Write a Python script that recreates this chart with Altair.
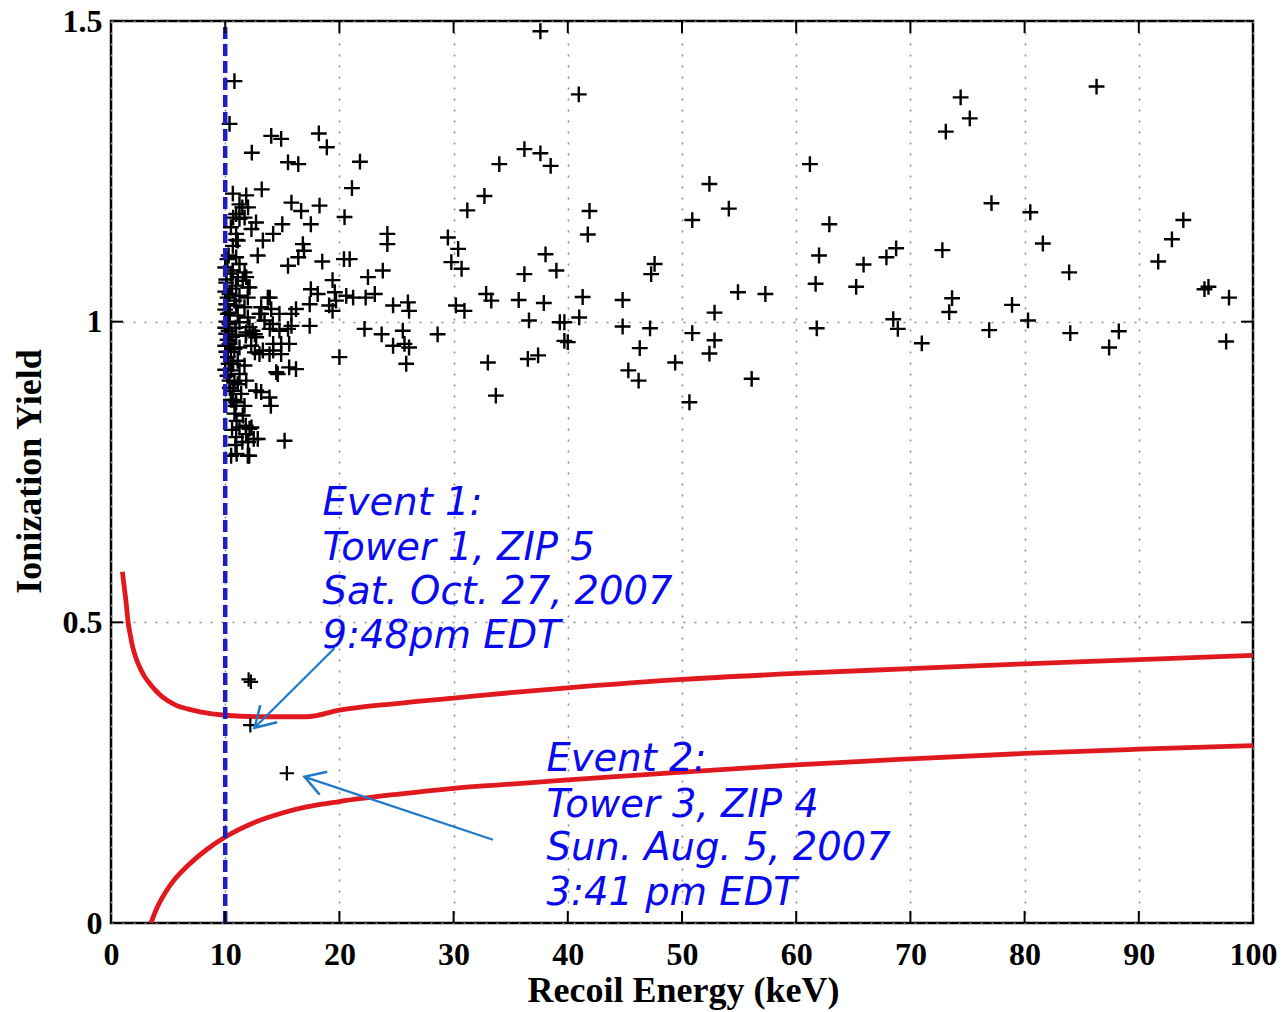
import math
import altair as alt
import pandas as pd

# Plot area in pixels
W, H = 1142, 902
X_MAX, Y_MAX = 100.0, 1.5

# ---- candidate events: recoil energy (keV) and ionization yield ----
scatter_e = [
    10.81, 10.38, 14.03, 14.9, 18.2, 18.9, 12.33, 15.5, 16.4, 21.8, 13.2, 21.1,
    10.67, 11.84, 15.8, 16.65, 18.26, 20.45, 11.5, 10.7, 11.25, 12.7, 12.3, 15.0,
    17.5, 14.2, 13.3, 10.96, 24.2, 24.2, 29.5, 30.4, 29.8, 30.7, 32.7, 31.2,
    16.8, 16.9, 16.4, 12.85, 15.5, 18.5, 20.4, 20.9, 22.5, 23.8, 19.4, 11.84,
    12.0, 19.6, 20.6, 21.2, 22.3, 23.1, 17.5, 18.1, 17.4, 19.7, 19.4, 13.9,
    13.15, 13.15, 14.75, 15.8, 16.2, 19.1, 24.7, 26.0, 26.1, 30.2, 30.95, 32.85,
    33.3, 12.4, 13.9, 14.75, 15.5, 15.8, 17.4, 22.2, 23.7, 25.55, 28.6, 11.8,
    12.6, 14.2, 14.9, 15.6, 24.7, 25.7, 26.1, 12.6, 13.3, 14.2, 14.9, 20.0,
    25.85, 33.0, 15.6, 16.2, 14.6, 12.7, 13.15, 14.0, 33.7, 15.2, 11.8, 12.3,
    11.5, 12.0, 12.5, 11.0, 12.1,
]
scatter_y = [
    1.400, 1.329, 1.309, 1.304, 1.313, 1.290, 1.281, 1.265, 1.262, 1.266, 1.220, 1.222,
    1.213, 1.210, 1.198, 1.184, 1.193, 1.174, 1.190, 1.173, 1.171, 1.165, 1.154, 1.162,
    1.162, 1.146, 1.135, 1.136, 1.146, 1.129, 1.140, 1.121, 1.099, 1.088, 1.209, 1.185,
    1.129, 1.118, 1.107, 1.110, 1.093, 1.100, 1.104, 1.104, 1.074, 1.085, 1.069, 1.074,
    1.057, 1.049, 1.043, 1.040, 1.040, 1.046, 1.054, 1.046, 1.029, 1.035, 1.018, 1.040,
    1.024, 1.013, 1.013, 1.013, 1.021, 1.027, 1.027, 1.032, 1.018, 1.027, 1.018, 1.046,
    1.035, 0.985, 0.988, 0.985, 0.988, 0.993, 0.993, 0.988, 0.979, 0.985, 0.979, 0.977,
    0.979, 0.963, 0.963, 0.963, 0.960, 0.963, 0.957, 0.949, 0.952, 0.952, 0.946, 0.941,
    0.930, 0.932, 0.924, 0.921, 0.913, 0.885, 0.883, 0.860, 0.877, 0.802, 0.827, 0.824,
    0.800, 0.800, 0.805, 0.780, 0.777,
]

# events crowded just above the 10 keV threshold
cluster_e = [
    11.25, 12.0, 10.96, 11.7, 10.5, 10.96, 10.67, 11.1, 10.2, 10.96, 11.25, 10.67,
    11.7, 11.1, 10.09, 10.96, 11.54, 12.13, 10.38, 11.25, 11.98, 13.73, 10.09, 10.96,
    11.69, 14.03, 10.23, 11.1, 11.98, 13.0, 10.38, 11.25, 12.13, 13.44, 14.17, 10.09,
    10.96, 11.84, 12.71, 10.38, 11.25, 12.28, 13.0, 13.88, 10.23, 11.1, 11.69, 10.52,
    11.25, 14.47, 10.38, 11.1, 11.84, 10.67, 11.4, 12.71, 13.88, 10.96, 11.69, 10.81,
    11.54, 11.25, 12.13, 10.96, 11.84, 12.85, 10.52, 11.98,
    10.0, 10.1, 10.0, 10.2, 10.0, 10.1, 10.0, 10.2, 10.0, 10.1, 10.3, 10.0,
    10.2, 10.4, 10.5, 10.3, 10.4, 10.6, 10.5, 10.7, 10.8, 10.5, 10.3, 10.6,
    10.8, 10.9, 10.8, 10.7, 10.9, 11.0, 10.6, 10.9,
]
cluster_y = [
    1.195, 1.190, 1.179, 1.173, 1.157, 1.146, 1.126, 1.135, 1.104, 1.107, 1.096, 1.085,
    1.082, 1.074, 1.065, 1.060, 1.068, 1.057, 1.046, 1.043, 1.040, 1.040, 1.029, 1.027,
    1.024, 1.021, 1.013, 1.010, 1.007, 1.013, 0.996, 0.999, 0.991, 1.002, 0.996, 0.980,
    0.977, 0.982, 0.974, 0.963, 0.957, 0.960, 0.946, 0.946, 0.941, 0.935, 0.927, 0.919,
    0.913, 0.916, 0.902, 0.896, 0.902, 0.885, 0.880, 0.885, 0.874, 0.866, 0.860, 0.847,
    0.844, 0.824, 0.822, 0.808, 0.813, 0.805, 0.777, 0.777,
    1.090, 1.070, 1.050, 1.040, 1.020, 1.000, 0.990, 0.970, 0.960, 0.950, 0.930, 0.920,
    0.910, 0.890, 0.870, 0.985, 1.015, 1.055, 0.950, 0.930, 0.900, 1.080, 1.110, 0.975,
    0.955, 0.990, 1.035, 0.870, 0.860, 0.835, 0.820, 0.795,
]

# higher-energy events
high_e = [
    37.6, 40.96, 36.2, 37.6, 34.0, 38.5, 41.9, 41.75, 38.05, 36.2, 39.0, 35.7,
    37.9, 36.6, 39.3, 39.7, 41.3, 41.0, 39.7, 40.0, 36.5, 37.4, 44.8, 44.8,
    47.2, 46.3, 45.3, 46.2, 47.6, 47.3, 49.4, 50.65, 50.9, 52.4, 54.1, 50.9,
    52.85, 52.85, 52.4, 54.9, 57.3, 56.1, 61.2, 62.9, 62.0, 61.7, 61.8, 65.25,
    65.9, 67.9, 68.75, 68.5, 68.9, 71.0, 73.1, 74.4, 75.2, 72.8, 73.65, 73.4,
    77.1, 76.9, 78.9, 80.3, 80.5, 81.6, 83.9, 84.0, 86.3, 87.4, 88.25, 91.7,
    92.9, 93.9, 95.75, 96.1, 97.9, 97.65,
]
high_y = [
    1.483, 1.378, 1.287, 1.280, 1.262, 1.259, 1.184, 1.145, 1.112, 1.079, 1.085, 1.036,
    1.031, 1.002, 0.999, 0.999, 1.041, 1.007, 0.968, 0.966, 0.938, 0.944, 1.036, 0.992,
    0.989, 0.956, 0.919, 0.902, 1.096, 1.079, 0.932, 0.866, 1.169, 1.229, 1.188, 0.981,
    1.015, 0.969, 0.947, 1.049, 1.046, 0.905, 1.262, 1.162, 1.110, 1.063, 0.989, 1.058,
    1.095, 1.107, 1.122, 1.004, 0.988, 0.964, 1.316, 1.373, 1.338, 1.119, 1.039, 1.016,
    1.197, 0.986, 1.028, 1.002, 1.182, 1.130, 1.082, 0.981, 1.391, 0.957, 0.984, 1.100,
    1.137, 1.169, 1.054, 1.058, 1.040, 0.967,
]

# low-yield events (inside / near the acceptance band)
low_e = [12.05, 12.25, 12.2, 15.4]
low_y = [0.405, 0.401, 0.329, 0.249]

# ---- acceptance band edges ----
upper_e = [1.0, 1.15, 1.3, 1.5, 1.7, 1.9, 2.2, 2.5, 2.9, 3.4, 4.0, 4.5, 5.7, 6.7, 7.8, 10.0, 13.6, 17.1,
           20, 25, 30, 35, 40, 50, 60, 70, 80, 90, 100]
upper_y = [0.584, 0.560, 0.537, 0.500, 0.478, 0.459, 0.440, 0.426, 0.411, 0.398, 0.385, 0.376, 0.362, 0.356,
           0.351, 0.3455, 0.343, 0.343,
           0.354, 0.365, 0.374, 0.383, 0.391, 0.405, 0.415, 0.423, 0.431, 0.438, 0.445]
lower_e = [3.5, 4.0, 4.8, 5.6, 6.6, 7.4, 8.3, 10.0, 12.4, 15.0, 17.1,
           20, 25, 30, 35, 40, 50, 60, 70, 80, 90, 100]
lower_y = [0.0, 0.024, 0.052, 0.073, 0.093, 0.107, 0.121, 0.143, 0.166, 0.183, 0.193,
           0.202, 0.214, 0.224, 0.231, 0.238, 0.251, 0.263, 0.273, 0.282, 0.289, 0.295]

# recoil-energy analysis threshold
threshold_kev = 10.0

# ---- annotations ----
event1_lines = ["Event 1:", "Tower 1, ZIP 5", "Sat. Oct. 27, 2007", "9:48pm EDT"]
event1_e = 18.52
event1_y = [0.6785, 0.6037, 0.5305, 0.4573]
event2_lines = ["Event 2:", "Tower 3, ZIP 4", "Sun. Aug. 5, 2007", "3:41 pm EDT"]
event2_e = 38.13
event2_y = [0.2536, 0.1771, 0.1048, 0.0299]

# arrows: tail -> head
arrow_tail_e = [19.57, 33.45]
arrow_tail_y = [0.4568, 0.1385]
arrow_head_e = [12.57, 16.94]
arrow_head_y = [0.3246, 0.2430]

x_ticks = list(range(0, 101, 10))
y_ticks = [0, 0.5, 1.0, 1.5]

# ---- tables ----
points = pd.DataFrame({
    "E": scatter_e + cluster_e + high_e,
    "Y": scatter_y + cluster_y + high_y,
})
low_points = pd.DataFrame({"E": low_e, "Y": low_y})
upper = pd.DataFrame({"E": upper_e, "Y": upper_y, "o": range(len(upper_e))})
lower = pd.DataFrame({"E": lower_e, "Y": lower_y, "o": range(len(lower_e))})
threshold = pd.DataFrame({"E": [threshold_kev], "Y": [0.0], "Y2": [Y_MAX]})
labels = pd.DataFrame({
    "E": [event1_e] * 4 + [event2_e] * 4,
    "Y": event1_y + event2_y,
    "t": event1_lines + event2_lines,
})

sx, sy = W / X_MAX, H / Y_MAX
angles = [
    math.degrees(math.atan2(-(hy - ty) * sy, (hx - tx) * sx)) % 360
    for tx, ty, hx, hy in zip(arrow_tail_e, arrow_tail_y, arrow_head_e, arrow_head_y)
]
arrows = pd.DataFrame({"E": arrow_tail_e, "Y": arrow_tail_y,
                       "E2": arrow_head_e, "Y2": arrow_head_y})
heads = pd.DataFrame({"E": arrow_head_e, "Y": arrow_head_y, "a": angles})

inner_x = pd.DataFrame({"E": x_ticks[1:-1]})
inner_y = pd.DataFrame({"Y": y_ticks[1:-1]})

SERIF = "Liberation Serif"
x_axis = alt.Axis(
    values=x_ticks, format="d", title="Recoil Energy (keV)",
    grid=True, gridColor="#8a8a8a", gridDash=[2, 9], gridWidth=1.6,
    ticks=False, tickSize=0, domain=False,
    labelFont=SERIF, labelFontWeight="bold", labelFontSize=32, labelColor="black",
    labelPadding=16, labelFlush=False, labelOverlap=False,
    titleFont=SERIF, titleFontWeight="bold", titleFontSize=36, titleColor="black",
    titleBaseline="alphabetic", titleAlign="center", titleX=572, titleY=78,
)
y_axis = alt.Axis(
    values=y_ticks, format="~g", title="Ionization Yield",
    grid=True, gridColor="#8a8a8a", gridDash=[2, 9], gridWidth=1.6,
    ticks=False, tickSize=0, domain=False,
    labelFont=SERIF, labelFontWeight="bold", labelFontSize=32, labelColor="black",
    labelPadding=9, labelFlush=False, labelOverlap=False,
    titleFont=SERIF, titleFontWeight="bold", titleFontSize=36, titleColor="black",
    titleAngle=270, titleBaseline="alphabetic", titleAlign="center",
    titleX=-71, titleY=450,
)
x_scale = alt.Scale(domain=[0, X_MAX], nice=False, zero=False)
y_scale = alt.Scale(domain=[0, Y_MAX], nice=False, zero=False)
X = alt.X("E:Q", scale=x_scale, axis=x_axis)
Y = alt.Y("Y:Q", scale=y_scale, axis=y_axis)

PLUS = "M-1,0L1,0M0,-1L0,1"
CHEVRON = "M-1,-0.6L0,0L-1,0.6"

tick_len = 12
ticks_bottom = alt.Chart(inner_x).mark_rule(color="black", strokeWidth=2).encode(
    x=X, y=alt.value(H), y2=alt.value(H - tick_len))
ticks_top = alt.Chart(inner_x).mark_rule(color="black", strokeWidth=2).encode(
    x=X, y=alt.value(0), y2=alt.value(tick_len))
ticks_left = alt.Chart(inner_y).mark_rule(color="black", strokeWidth=2).encode(
    y=Y, x=alt.value(0), x2=alt.value(tick_len))
ticks_right = alt.Chart(inner_y).mark_rule(color="black", strokeWidth=2).encode(
    y=Y, x=alt.value(W), x2=alt.value(W - tick_len))

band_red = "#E0191E"
upper_line = alt.Chart(upper).mark_line(
    color=band_red, strokeWidth=4.8, interpolate="monotone").encode(x=X, y=Y, order="o:Q")
lower_line = alt.Chart(lower).mark_line(
    color=band_red, strokeWidth=4.8, interpolate="monotone").encode(x=X, y=Y, order="o:Q")

events = alt.Chart(points).mark_point(
    shape=PLUS, size=250, filled=False, stroke="black", strokeWidth=2.4, opacity=1
).encode(x=X, y=Y)
low_events = alt.Chart(low_points).mark_point(
    shape=PLUS, size=210, filled=False, stroke="black", strokeWidth=2.2, opacity=1
).encode(x=X, y=Y)

threshold_line = alt.Chart(threshold).mark_rule(
    color="#1e1ec0", strokeWidth=4.5, strokeDash=[12, 5]
).encode(x=X, y=Y, y2="Y2:Q")

arrow_blue = "#1F78C8"
arrow_lines = alt.Chart(arrows).mark_rule(color=arrow_blue, strokeWidth=2.2).encode(
    x=X, y=Y, x2="E2:Q", y2="Y2:Q")
arrow_heads = alt.Chart(heads).mark_point(
    shape=CHEVRON, size=1600, filled=False, stroke=arrow_blue, strokeWidth=2.5, opacity=1
).encode(x=X, y=Y, angle=alt.Angle("a:Q", scale=None))

notes = alt.Chart(labels).mark_text(
    font="DejaVu Sans", fontStyle="italic", fontSize=38.5, color="#0A0AF0",
    align="left", baseline="alphabetic"
).encode(x=X, y=Y, text="t:N")

chart = alt.layer(
    upper_line, lower_line, events, low_events, threshold_line,
    ticks_bottom, ticks_top, ticks_left, ticks_right,
    arrow_lines, arrow_heads, notes,
).properties(
    width=W, height=H,
    autosize=alt.AutoSizeParams(type="none"),
    padding={"left": 111, "top": 21, "right": 33, "bottom": 89},
    background="white",
).configure_view(stroke="black", strokeWidth=2.5)

chart.save("out.html", embed_options={"renderer": "svg", "actions": False})
